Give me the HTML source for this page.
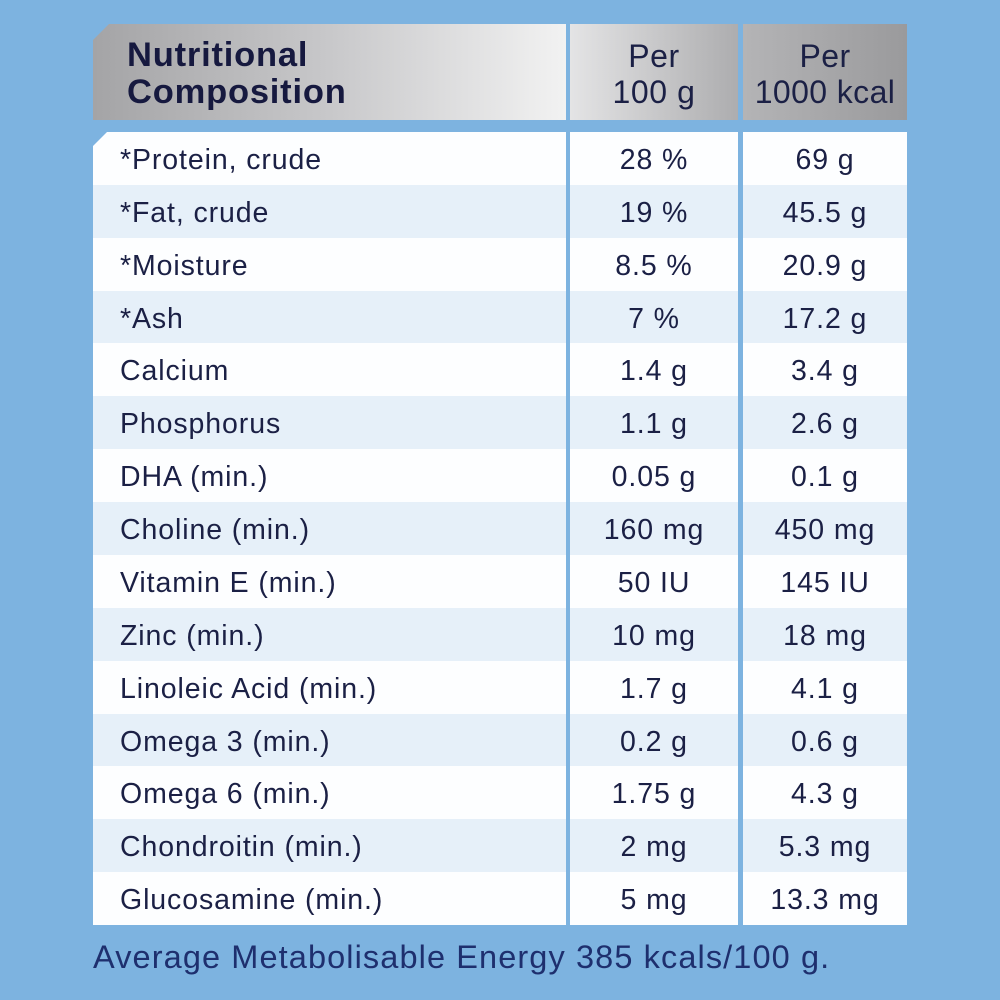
<!DOCTYPE html>
<html><head><meta charset="utf-8"><style>
body{margin:0;width:1000px;height:1000px;background:#7db3e0;position:relative;overflow:hidden;font-family:"Liberation Sans",sans-serif;color:#1b2045}
.h{position:absolute;top:24px;height:96px;}
.r{position:absolute;height:53px;font-size:28.5px;line-height:57px;letter-spacing:0.9px}
.c{position:absolute;top:0;height:53px}
</style></head><body>
<div class="h" style="left:93px;width:473px;background:linear-gradient(90deg,#a4a4a6 0%,#c8c8ca 50%,#f2f2f2 100%);clip-path:polygon(16px 0,100% 0,100% 100%,0 100%,0 16px)">
<div style="position:absolute;left:34px;top:13px;font-weight:bold;font-size:34.5px;line-height:37px;color:#16193f;letter-spacing:0.8px">Nutritional<br>Composition</div></div>
<div class="h" style="left:570px;width:168px;background:linear-gradient(90deg,#e4e4e5,#adadaf)">
<div style="text-align:center;font-size:32px;line-height:36px;padding-top:14px;letter-spacing:0.6px">Per<br>100 g</div></div>
<div class="h" style="left:743px;width:164px;background:linear-gradient(90deg,#b4b4b6,#9a9a9c)">
<div style="text-align:center;font-size:32px;line-height:36px;padding-top:14px;letter-spacing:0.4px;white-space:nowrap">Per<br>1000 kcal</div></div>
<div id="rows"></div>
<div style="position:absolute;left:93px;top:939px;font-size:32.5px;color:#1e2f6e;letter-spacing:1.1px;white-space:nowrap">Average Metabolisable Energy 385 kcals/100 g.</div>
<script>
var d=[["*Protein, crude","28 %","69 g"],["*Fat, crude","19 %","45.5 g"],["*Moisture","8.5 %","20.9 g"],["*Ash","7 %","17.2 g"],["Calcium","1.4 g","3.4 g"],["Phosphorus","1.1 g","2.6 g"],["DHA (min.)","0.05 g","0.1 g"],["Choline (min.)","160 mg","450 mg"],["Vitamin E (min.)","50 IU","145 IU"],["Zinc (min.)","10 mg","18 mg"],["Linoleic Acid (min.)","1.7 g","4.1 g"],["Omega 3 (min.)","0.2 g","0.6 g"],["Omega 6 (min.)","1.75 g","4.3 g"],["Chondroitin (min.)","2 mg","5.3 mg"],["Glucosamine (min.)","5 mg","13.3 mg"]];
var h="";
d.forEach(function(r,i){var y=132+i*52.87,bg=i%2?"#e6f0f9":"#fdfeff";
var cp=i==0?"clip-path:polygon(14px 0,100% 0,100% 100%,0 100%,0 14px);":"";
h+='<div class="r" style="top:'+y+'px;left:0;width:1000px">'+
'<div class="c" style="left:93px;width:473px;background:'+bg+';'+cp+'"><span style="position:absolute;left:27px;white-space:nowrap">'+r[0]+'</span></div>'+
'<div class="c" style="left:570px;width:168px;background:'+bg+';text-align:center">'+r[1]+'</div>'+
'<div class="c" style="left:743px;width:164px;background:'+bg+';text-align:center">'+r[2]+'</div></div>';});
document.getElementById("rows").innerHTML=h;
</script>
</body></html>
